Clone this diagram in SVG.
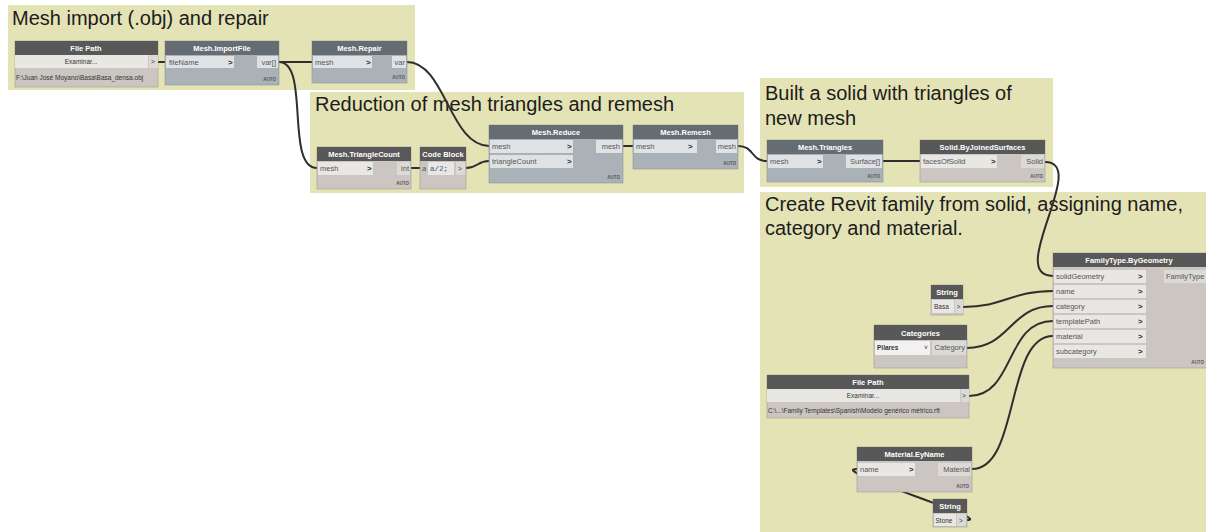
<svg xmlns="http://www.w3.org/2000/svg" width="1206" height="532" viewBox="0 0 1206 532">
<defs>
<style>
.grp{fill:#e4e3b6}
.title{font-family:"Liberation Sans",Arial,sans-serif;font-size:20px;fill:#1c1c1c}
.hd{fill:#585858}
.hb{fill:#656c72}
.bt{fill:#cbc6c1;stroke:#9d9a96;stroke-width:0.6}
.bb{fill:#aab1b7;stroke:#8f969b;stroke-width:0.6}
.pb{fill:#e8e7e4}
.po{fill:#dcdad7}
.pbb{fill:#dfe2e4}
.ht{font-family:"Liberation Sans",Arial,sans-serif;font-size:7.5px;font-weight:bold;fill:#ffffff;text-anchor:middle}
.pt{font-family:"Liberation Sans",Arial,sans-serif;font-size:7.5px;fill:#555555}
.ptr{font-family:"Liberation Sans",Arial,sans-serif;font-size:7.5px;fill:#555555;text-anchor:end}
.ar{font-family:"Liberation Sans",Arial,sans-serif;font-size:8px;font-weight:bold;fill:#333333}
.au{font-family:"Liberation Sans",Arial,sans-serif;font-size:4.5px;font-weight:bold;fill:#555555;text-anchor:end}
.sm{font-family:"Liberation Sans",Arial,sans-serif;font-size:6.5px;fill:#333333}
.wire{fill:none;stroke:#2e2e2e;stroke-width:2}
</style>
</defs>

<!-- groups -->
<g id="group-import">
<rect class="grp" x="8" y="5" width="407" height="85"/>
<text class="title" x="12" y="25">Mesh import (.obj) and repair</text>
</g>
<g id="group-reduction">
<rect class="grp" x="310" y="92" width="434" height="101"/>
<text class="title" x="315" y="111">Reduction of mesh triangles and remesh</text>
</g>
<g id="group-solid">
<rect class="grp" x="760" y="78" width="293" height="109"/>
<text class="title" x="765" y="100">Built a solid with triangles of</text>
<text class="title" x="765" y="125">new mesh</text>
</g>
<g id="group-family">
<rect class="grp" x="760" y="192" width="446" height="340"/>
<text class="title" x="765" y="211">Create Revit family from solid, assigning name,</text>
<text class="title" x="765" y="235">category and material.</text>
</g>

<!-- connectors -->
<g id="connectors">
<path class="wire" d="M158,62 L165,62"/>
<path class="wire" d="M279,62 L312,62"/>
<path class="wire" d="M279,62 C310,62 285,168 317,168"/>
<path class="wire" d="M407,62 C445,62 450,146 489,146"/>
<path class="wire" d="M411,168 L420,168"/>
<path class="wire" d="M466,168 C478,168 477,161 489,161"/>
<path class="wire" d="M623,146 L633,146"/>
<path class="wire" d="M738,146 C755,146 750,161 767,161"/>
<path class="wire" d="M883,161 L920,161"/>
<path class="wire" d="M1045,162 C1090,162 1005,276 1053,276"/>
<path class="wire" d="M963,307 C1005,307 1010,291 1053,291"/>
<path class="wire" d="M967,348 C1010,348 1010,306 1053,306"/>
<path class="wire" d="M969,396 C1015,396 1005,321 1053,321"/>
<path class="wire" d="M972,469 C1020,469 1005,336 1053,336"/>
<path class="wire" d="M967,520 C995,520 825,469 857,469"/>
</g>

<!-- nodes -->
<g id="node-filepath1">
<rect class="bt" x="15" y="41" width="143" height="46"/>
<rect class="hd" x="15" y="41" width="143" height="14"/>
<text class="ht" x="86" y="51">File Path</text>
<rect class="pb" x="15" y="55" width="133" height="13"/>
<text class="sm" x="81" y="64" text-anchor="middle">Examinar...</text>
<rect class="po" x="149" y="55" width="9" height="13"/>
<text class="sm" x="151" y="64">&gt;</text>
<text class="sm" x="16" y="80">F:\Juan José Moyano\Basa\Basa_densa.obj</text>
</g>

<g id="node-importfile">
<rect class="bb" x="165" y="41" width="114" height="44"/>
<rect class="hb" x="165" y="41" width="114" height="14"/>
<text class="ht" x="222" y="51">Mesh.ImportFile</text>
<rect class="pbb" x="166" y="56" width="68" height="12"/>
<text class="pt" x="169" y="65">fileName</text>
<text class="ar" x="228" y="65">&gt;</text>
<rect class="pbb" x="257" y="56" width="21" height="12"/>
<text class="ptr" x="276" y="65">var[]</text>
<text class="au" x="276" y="81">AUTO</text>
</g>

<g id="node-repair">
<rect class="bb" x="312" y="41" width="95" height="42"/>
<rect class="hb" x="312" y="41" width="95" height="14"/>
<text class="ht" x="359.5" y="51">Mesh.Repair</text>
<rect class="pbb" x="313" y="56" width="59" height="12"/>
<text class="pt" x="315" y="65">mesh</text>
<text class="ar" x="366" y="65">&gt;</text>
<rect class="pbb" x="392" y="56" width="14" height="12"/>
<text class="ptr" x="405" y="65">var</text>
<text class="au" x="405" y="79">AUTO</text>
</g>

<g id="node-trianglecount">
<rect class="bt" x="317" y="147" width="94" height="42"/>
<rect class="hd" x="317" y="147" width="94" height="14"/>
<text class="ht" x="364" y="157">Mesh.TriangleCount</text>
<rect class="pb" x="318" y="162" width="55" height="13"/>
<text class="pt" x="320" y="171">mesh</text>
<text class="ar" x="367" y="171">&gt;</text>
<rect class="po" x="397" y="162" width="13" height="13"/>
<text class="ptr" x="409" y="171">int</text>
<text class="au" x="409" y="185">AUTO</text>
</g>

<g id="node-codeblock">
<rect class="bt" x="420" y="147" width="46" height="42"/>
<rect class="hd" x="420" y="147" width="46" height="14"/>
<text class="ht" x="443" y="157">Code Block</text>
<text class="pt" x="422" y="171">a</text>
<rect class="pb" x="428" y="162" width="26" height="13"/>
<text x="430" y="171" style="font-family:'Liberation Mono',monospace;font-size:7.5px;fill:#333"><tspan fill="#2a5d9c">a</tspan>/<tspan fill="#2a6fc0">2</tspan>;</text>
<rect class="po" x="456" y="162" width="9" height="13"/>
<text class="sm" x="458" y="171">&gt;</text>
</g>

<g id="node-reduce">
<rect class="bb" x="489" y="125" width="134" height="58"/>
<rect class="hb" x="489" y="125" width="134" height="14"/>
<text class="ht" x="556" y="135">Mesh.Reduce</text>
<rect class="pbb" x="490" y="140" width="83" height="13"/>
<text class="pt" x="492" y="149">mesh</text>
<text class="ar" x="567" y="149">&gt;</text>
<rect class="pbb" x="490" y="155" width="83" height="13"/>
<text class="pt" x="492" y="164">triangleCount</text>
<text class="ar" x="567" y="164">&gt;</text>
<rect class="pbb" x="596" y="140" width="26" height="13"/>
<text class="ptr" x="620" y="149">mesh</text>
<text class="au" x="620" y="179">AUTO</text>
</g>

<g id="node-remesh">
<rect class="bb" x="633" y="125" width="105" height="44"/>
<rect class="hb" x="633" y="125" width="105" height="14"/>
<text class="ht" x="685.5" y="135">Mesh.Remesh</text>
<rect class="pbb" x="634" y="140" width="63" height="13"/>
<text class="pt" x="636" y="149">mesh</text>
<text class="ar" x="688" y="149">&gt;</text>
<rect class="pbb" x="716" y="140" width="21" height="13"/>
<text class="ptr" x="736" y="149">mesh</text>
<text class="au" x="736" y="165">AUTO</text>
</g>

<g id="node-triangles">
<rect class="bb" x="767" y="140" width="116" height="42"/>
<rect class="hb" x="767" y="140" width="116" height="14"/>
<text class="ht" x="825" y="150">Mesh.Triangles</text>
<rect class="pbb" x="768" y="155" width="55" height="13"/>
<text class="pt" x="770" y="164">mesh</text>
<text class="ar" x="817" y="164">&gt;</text>
<rect class="pbb" x="846" y="155" width="36" height="13"/>
<text class="ptr" x="880" y="164">Surface[]</text>
<text class="au" x="880" y="178">AUTO</text>
</g>

<g id="node-solid">
<rect class="bt" x="920" y="140" width="125" height="42"/>
<rect class="hd" x="920" y="140" width="125" height="14"/>
<text class="ht" x="982.5" y="150">Solid.ByJoinedSurfaces</text>
<rect class="pb" x="921" y="155" width="76" height="13"/>
<text class="pt" x="923" y="164">facesOfSolid</text>
<text class="ar" x="991" y="164">&gt;</text>
<rect class="po" x="1021" y="155" width="23" height="13"/>
<text class="ptr" x="1043" y="164">Solid</text>
<text class="au" x="1043" y="178">AUTO</text>
</g>

<g id="node-familytype">
<rect class="bt" x="1053" y="253" width="160" height="115"/>
<rect class="hd" x="1053" y="253" width="160" height="14"/>
<text class="ht" x="1129" y="263">FamilyType.ByGeometry</text>
<rect class="pb" x="1054" y="270" width="92" height="13"/>
<text class="pt" x="1056" y="279">solidGeometry</text>
<text class="ar" x="1138" y="279">&gt;</text>
<rect class="pb" x="1054" y="285" width="92" height="13"/>
<text class="pt" x="1056" y="294">name</text>
<text class="ar" x="1138" y="294">&gt;</text>
<rect class="pb" x="1054" y="300" width="92" height="13"/>
<text class="pt" x="1056" y="309">category</text>
<text class="ar" x="1138" y="309">&gt;</text>
<rect class="pb" x="1054" y="315" width="92" height="13"/>
<text class="pt" x="1056" y="324">templatePath</text>
<text class="ar" x="1138" y="324">&gt;</text>
<rect class="pb" x="1054" y="330" width="92" height="13"/>
<text class="pt" x="1056" y="339">material</text>
<text class="ar" x="1138" y="339">&gt;</text>
<rect class="pb" x="1054" y="345" width="92" height="13"/>
<text class="pt" x="1056" y="354">subcategory</text>
<text class="ar" x="1138" y="354">&gt;</text>
<rect class="po" x="1164" y="270" width="46" height="13"/>
<text class="pt" x="1166" y="279">FamilyType</text>
<text class="au" x="1204" y="364">AUTO</text>
</g>

<g id="node-string-basa">
<rect class="bt" x="931" y="285" width="32" height="30"/>
<rect class="hd" x="931" y="285" width="32" height="14"/>
<text class="ht" x="947" y="295">String</text>
<rect class="pb" x="932" y="300" width="22" height="13"/>
<text class="sm" x="934" y="309">Basa</text>
<rect class="po" x="955" y="300" width="8" height="13"/>
<text class="sm" x="956.5" y="309">&gt;</text>
</g>

<g id="node-categories">
<rect class="bt" x="874" y="325" width="93" height="43"/>
<rect class="hd" x="874" y="325" width="93" height="15"/>
<text class="ht" x="920.5" y="335.5">Categories</text>
<rect x="875" y="341" width="55" height="14" fill="#f2f1ef"/>
<text class="sm" x="877" y="350" font-weight="bold">Pilares</text>
<text class="sm" x="924" y="350" fill="#777">˅</text>
<rect class="po" x="932" y="341" width="34" height="14"/>
<text class="ptr" x="965" y="350" fill="#777">Category</text>
</g>

<g id="node-filepath2">
<rect class="bt" x="767" y="375" width="202" height="43"/>
<rect class="hd" x="767" y="375" width="202" height="14"/>
<text class="ht" x="868" y="385">File Path</text>
<rect class="pb" x="767" y="389" width="193" height="13"/>
<text class="sm" x="863" y="398" text-anchor="middle">Examinar...</text>
<rect class="po" x="961" y="389" width="8" height="13"/>
<text class="sm" x="962" y="398">&gt;</text>
<text class="sm" x="768" y="413">C:\...\Family Templates\Spanish\Modelo genérico métrico.rft</text>
</g>

<g id="node-material">
<rect class="bt" x="857" y="447" width="115" height="45"/>
<rect class="hd" x="857" y="447" width="115" height="14"/>
<text class="ht" x="914.5" y="457">Material.EyName</text>
<rect class="pb" x="858" y="463" width="57" height="13"/>
<text class="pt" x="860" y="472">name</text>
<text class="ar" x="909" y="472">&gt;</text>
<rect class="po" x="938" y="463" width="33" height="13"/>
<text class="ptr" x="970" y="472">Material</text>
<text class="au" x="969" y="488">AUTO</text>
</g>

<g id="node-string-stone">
<rect class="bt" x="933" y="499" width="34" height="28"/>
<rect class="hd" x="933" y="499" width="34" height="14"/>
<text class="ht" x="950" y="509">String</text>
<rect class="pb" x="934" y="514" width="22" height="12"/>
<text class="sm" x="935.5" y="522.5">Stone</text>
<rect class="po" x="957" y="514" width="9" height="12"/>
<text class="sm" x="959" y="522.5">&gt;</text>
</g>
</svg>
